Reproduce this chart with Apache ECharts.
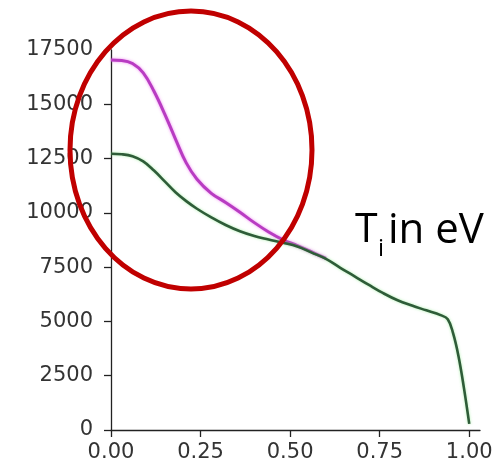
<!DOCTYPE html>
<html>
<head>
<meta charset="utf-8">
<script src="https://cdn.jsdelivr.net/npm/echarts@6/dist/echarts.min.js"></script>
<style>
html,body{margin:0;padding:0;background:#fff;}
#chart{width:501px;height:469px;}
</style>
</head>
<body>
<div id="chart"></div>
<script>
// Normalized radius (x) values
const rho = [0, 0.03, 0.06, 0.09, 0.12, 0.15, 0.18, 0.21, 0.24, 0.28, 0.32, 0.36, 0.40, 0.44, 0.48, 0.52, 0.56, 0.60, 0.64, 0.68, 0.72, 0.76, 0.80, 0.84, 0.88, 0.92, 0.94, 0.955, 0.97, 0.985, 1.0];
// Ion temperature, magenta profile (eV)
const tiMagenta = [17040, 17020, 16880, 16450, 15600, 14550, 13400, 12300, 11550, 10900, 10480, 10030, 9550, 9120, 8760, 8490, 8200, 7900];
// Ion temperature, green profile (eV)
const tiGreen = [12720, 12700, 12610, 12370, 11950, 11450, 10950, 10540, 10190, 9790, 9440, 9150, 8930, 8770, 8620, 8450, 8170, 7880, 7470, 7075, 6680, 6300, 5975, 5730, 5510, 5290, 5100, 4450, 3400, 1950, 280];
const xTicks = [0, 0.25, 0.5, 0.75, 1.0];
const yTicks = [0, 2500, 5000, 7500, 10000, 12500, 15000, 17500];

const magentaData = tiMagenta.map((v, i) => [rho[i], v]);
const greenData = tiGreen.map((v, i) => [rho[i], v]);

const chart = echarts.init(document.getElementById('chart'));
const axisColor = '#222';
const labelFont = 'DejaVu Sans';
chart.setOption({
  animation: false,
  backgroundColor: '#ffffff',
  grid: {left: 111, right: 21, top: 50, bottom: 39, containLabel: false},
  xAxis: {
    type: 'value', min: 0, max: 1.03,
    axisLine: {show: true, lineStyle: {color: axisColor, width: 1.3}},
    axisTick: {show: true, length: 7, lineStyle: {color: axisColor, width: 1.3}, customValues: xTicks},
    axisLabel: {fontFamily: labelFont, fontSize: 21, color: '#333', margin: 12,
      customValues: xTicks, formatter: v => v.toFixed(2)},
    splitLine: {show: false}
  },
  yAxis: {
    type: 'value', min: 0, max: 17500, interval: 2500,
    axisLine: {show: true, lineStyle: {color: axisColor, width: 1.3}},
    axisTick: {show: true, length: 7, lineStyle: {color: axisColor, width: 1.3}, customValues: yTicks.slice(0, 7)},
    axisLabel: {fontFamily: labelFont, fontSize: 21, color: '#333', margin: 18,
      customValues: yTicks, formatter: v => String(v)},
    splitLine: {show: false}
  },
  series: [
    {
      type: 'line', data: magentaData, smooth: 0.4, showSymbol: false, z: 3,
      lineStyle: {color: '#b83cc2', width: 3, shadowColor: 'rgba(235,90,240,0.7)', shadowBlur: 3}
    },
    {
      type: 'line', data: greenData, smooth: 0.4, showSymbol: false, z: 4,
      lineStyle: {color: '#2e5c38', width: 2.6, shadowColor: 'rgba(120,230,120,0.6)', shadowBlur: 3}
    }
  ],
  graphic: [
    {type: 'ellipse', shape: {cx: 191, cy: 150, rx: 121, ry: 139}, z: 100,
      style: {fill: null, stroke: '#c00000', lineWidth: 5}},
    {type: 'text', left: 355, top: 210, z: 100,
      style: {text: 'T', font: '41px "Open Sans"', fill: '#000'}},
    {type: 'text', left: 378, top: 237, z: 100,
      style: {text: 'i', font: '24px "Open Sans"', fill: '#000'}},
    {type: 'text', left: 388, top: 210, z: 100,
      style: {text: 'in eV', font: '42px "Open Sans"', fill: '#000'}}
  ]
});
</script>
</body>
</html>
